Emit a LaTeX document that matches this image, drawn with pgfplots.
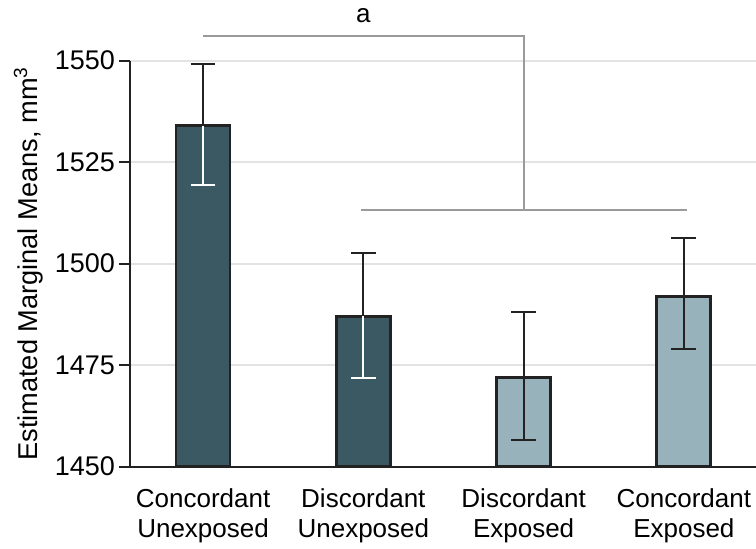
\documentclass[border=0pt]{standalone}
\usepackage{fontspec}
\setmainfont{Liberation Sans}
\usepackage{pgfplots}
\pgfplotsset{compat=1.18}
\definecolor{darkbar}{HTML}{3A5962}
\definecolor{lightbar}{HTML}{98B2BC}
\definecolor{gridc}{HTML}{E3E3E3}
\definecolor{brk}{HTML}{9A9A9A}
\definecolor{axc}{HTML}{222222}
\begin{document}
\begin{tikzpicture}
\begin{axis}[
  name=ax,
  scale only axis,
  width=313pt, height=203pt,
  xmin=-0.456, xmax=3.45,
  ymin=1450, ymax=1550,
  ytick={1450,1475,1500,1525,1550},
  xtick={0,1,2,3},
  xticklabels={{Concordant\\Unexposed},{Discordant\\Unexposed},{Discordant\\Exposed},{Concordant\\Exposed}},
  xticklabel style={align=center, font=\fontsize{13}{15}\selectfont, yshift=-2pt},
  yticklabel style={font=\fontsize{13.5}{15}\selectfont, xshift=1.5pt},
  /pgf/number format/assume math mode=true,
  /pgf/number format/1000 sep={},
  axis x line=bottom, axis y line=left,
  axis line style={-, axc, line width=1pt},
  major x tick style={draw=none},
  ytick style={axc, line width=1pt},
  tick align=outside,
  major tick length=5.5pt,
  ymajorgrids,
  grid style={gridc, line width=0.8pt},
  ylabel={Estimated Marginal Means, mm\textsuperscript{3}},
  ylabel style={font=\fontsize{13.6}{15}\selectfont, yshift=-1pt},
  clip=false,
]
\addplot[ybar, bar width=27pt, bar shift=0pt, fill=darkbar, draw=axc, line width=1.4pt]
  coordinates {(0,1534) (1,1487)};
\addplot[ybar, bar width=27pt, bar shift=0pt, fill=lightbar, draw=axc, line width=1.4pt]
  coordinates {(2,1472) (3,1492)};
% upper error bars (black)
\addplot[draw=none, mark=none, forget plot,
  error bars/.cd, y dir=plus, y explicit,
  error bar style={draw=axc, line width=1pt, solid},
  error mark options={rotate=90, draw=axc, line width=1pt, mark size=6.2pt}]
  coordinates {(0,1534) +- (0,15.2) (1,1487) +- (0,15.6) (2,1472) +- (0,16) (3,1492) +- (0,14.3)};
% lower error bars, dark bars (white)
\addplot[draw=none, mark=none, forget plot,
  error bars/.cd, y dir=minus, y explicit,
  error bar style={draw=white, line width=1pt, solid},
  error mark options={rotate=90, draw=white, line width=1pt, mark size=6.2pt}]
  coordinates {(0,1534) +- (0,14.6) (1,1487) +- (0,15.2)};
% lower error bars, light bars (black)
\addplot[draw=none, mark=none, forget plot,
  error bars/.cd, y dir=minus, y explicit,
  error bar style={draw=axc, line width=1pt, solid},
  error mark options={rotate=90, draw=axc, line width=1pt, mark size=6.2pt}]
  coordinates {(2,1472) +- (0,15.3) (3,1492) +- (0,12.9)};
% significance bracket
\draw[brk, line width=1pt] (axis cs:0,1556.1) -- (axis cs:2,1556.1) -- (axis cs:2,1513.2);
\draw[brk, line width=1pt] (axis cs:0.985,1513.2) -- (axis cs:3.02,1513.2);
\node[font=\fontsize{13}{15}\selectfont] at (axis cs:1.0,1561) {a};
\end{axis}
\pgfresetboundingbox
\path[use as bounding box] ([xshift=-65pt, yshift=-40.65pt]ax.south west) rectangle ([yshift=30.35pt]ax.north east);
\end{tikzpicture}
\end{document}
